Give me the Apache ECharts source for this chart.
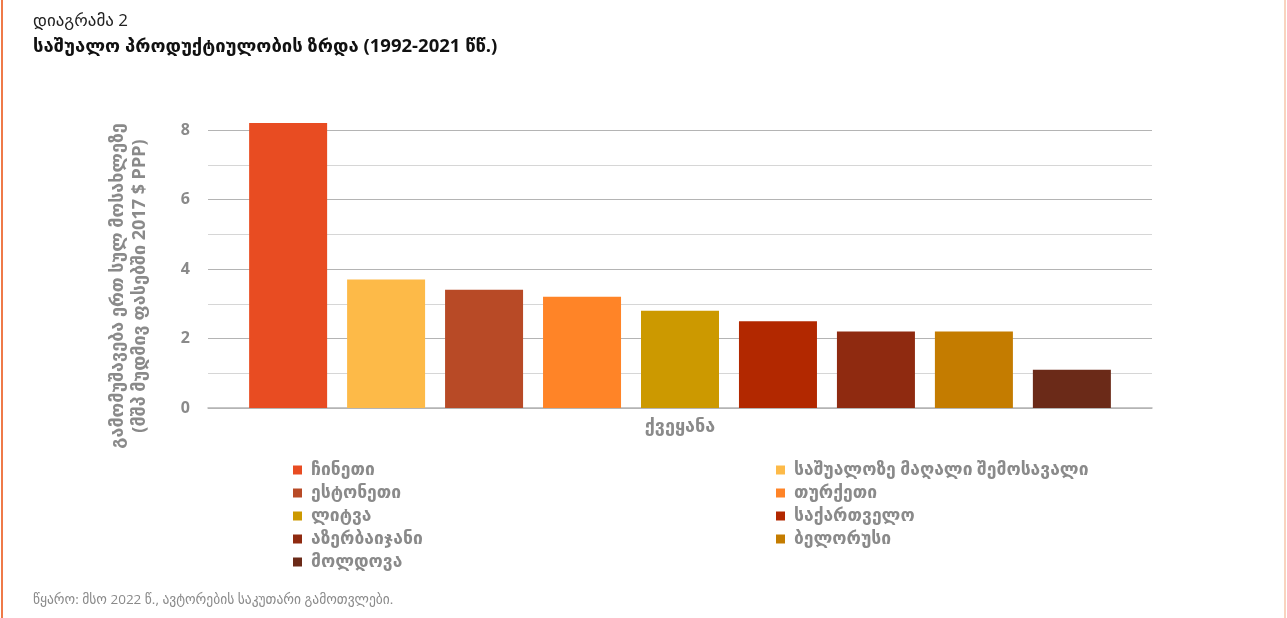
<!DOCTYPE html>
<html><head><meta charset="utf-8">
<script src="https://cdn.jsdelivr.net/npm/echarts@6/dist/echarts.min.js"></script>
<style>html,body{margin:0;padding:0;background:#fff}#c{width:1287px;height:618px}</style>
</head><body><div id="c"></div>
<script>
const categories = ['ქვეყანა'];
const countries = ['ჩინეთი','საშუალოზე მაღალი შემოსავალი','ესტონეთი','თურქეთი','ლიტვა','საქართველო','აზერბაიჯანი','ბელორუსი','მოლდოვა'];
const values = [8.2, 3.7, 3.4, 3.2, 2.8, 2.5, 2.2, 2.2, 1.1];
const colors = ['#E84C22','#FDBA48','#B84A26','#FF8427','#CC9900','#B22800','#8F2A10','#C47C00','#6B2A18'];
const yTicks = [0, 2, 4, 6, 8];

const FONT = '"Open Sans", "DejaVu Sans", sans-serif';
const GRAY = '#8a8a8a';

const series = countries.map((name, i) => ({
  name: name,
  type: 'bar',
  data: [values[i]],
  barWidth: 78,
  barGap: '25.6%',
  clip: false,
  itemStyle: { color: colors[i] },
  emphasis: { disabled: true }
}));

const legendText = { fontFamily: FONT, fontWeight: 'bold', fontSize: 17.5, color: GRAY, lineHeight: 18, padding: [0,0,0,4] };
const leftNames = countries.filter((_, i) => i % 2 === 0);
const rightNames = countries.filter((_, i) => i % 2 === 1);

const chart = echarts.init(document.getElementById('c'), null, { renderer: 'canvas' });
chart.setOption({
  animation: false,
  backgroundColor: '#fff',
  grid: { left: 208, right: 135, top: 130, bottom: 210 },
  xAxis: {
    type: 'category',
    data: categories,
    axisLine: { lineStyle: { color: '#b4b4b4', width: 1.5 } },
    axisTick: { show: false },
    axisLabel: { margin: 10, fontFamily: FONT, fontWeight: 'bold', fontSize: 18, color: GRAY }
  },
  yAxis: {
    type: 'value',
    min: yTicks[0],
    max: yTicks[yTicks.length - 1],
    interval: 2,
    axisLine: { show: false },
    axisTick: { show: false },
    axisLabel: { margin: 18, fontFamily: FONT, fontWeight: 'bold', fontSize: 16, color: GRAY },
    splitLine: { lineStyle: { color: '#b4b4b4', width: 1.2 } },
    minorTick: { show: false, splitNumber: 2 },
    minorSplitLine: { show: true, lineStyle: { color: '#d6d6d6', width: 1.2 } }
  },
  legend: [
    { orient: 'vertical', left: 288, top: 456, itemGap: 5, itemWidth: 9, itemHeight: 9, icon: 'rect', data: leftNames, textStyle: legendText, selectedMode: false },
    { orient: 'vertical', left: 771, top: 456, itemGap: 5, itemWidth: 9, itemHeight: 9, icon: 'rect', data: rightNames, textStyle: legendText, selectedMode: false }
  ],
  graphic: [
    { type: 'rect', left: 1, top: 0, shape: { width: 2, height: 618 }, style: { fill: '#ef7a48' } },
    { type: 'rect', left: 1284, top: 0, shape: { width: 2, height: 618 }, style: { fill: '#f9d3bf' } },
    { type: 'text', left: 33, top: 13, style: { text: 'დიაგრამა 2', font: '17px ' + FONT, fill: '#222' } },
    { type: 'text', left: 33, top: 37, style: { text: 'საშუალო პროდუქტიულობის ზრდა (1992-2021 წწ.)', font: 'bold 18.5px ' + FONT, fill: '#111' } },
    { type: 'text', x: 129, y: 286, rotation: Math.PI / 2,
      style: { text: 'გამომუშავება ერთ სულ მოსახლეზე\n(მშპ მუდმივ ფასებში 2017 $ PPP)', font: 'bold 18px ' + FONT, fill: GRAY, textAlign: 'center', textVerticalAlign: 'middle', lineHeight: 22 } },
    { type: 'text', left: 33, top: 593, style: { text: 'წყარო: მსო 2022 წ., ავტორების საკუთარი გამოთვლები.', font: '13.5px ' + FONT, fill: '#8a8a8a' } }
  ],
  series: series
});
</script></body></html>
